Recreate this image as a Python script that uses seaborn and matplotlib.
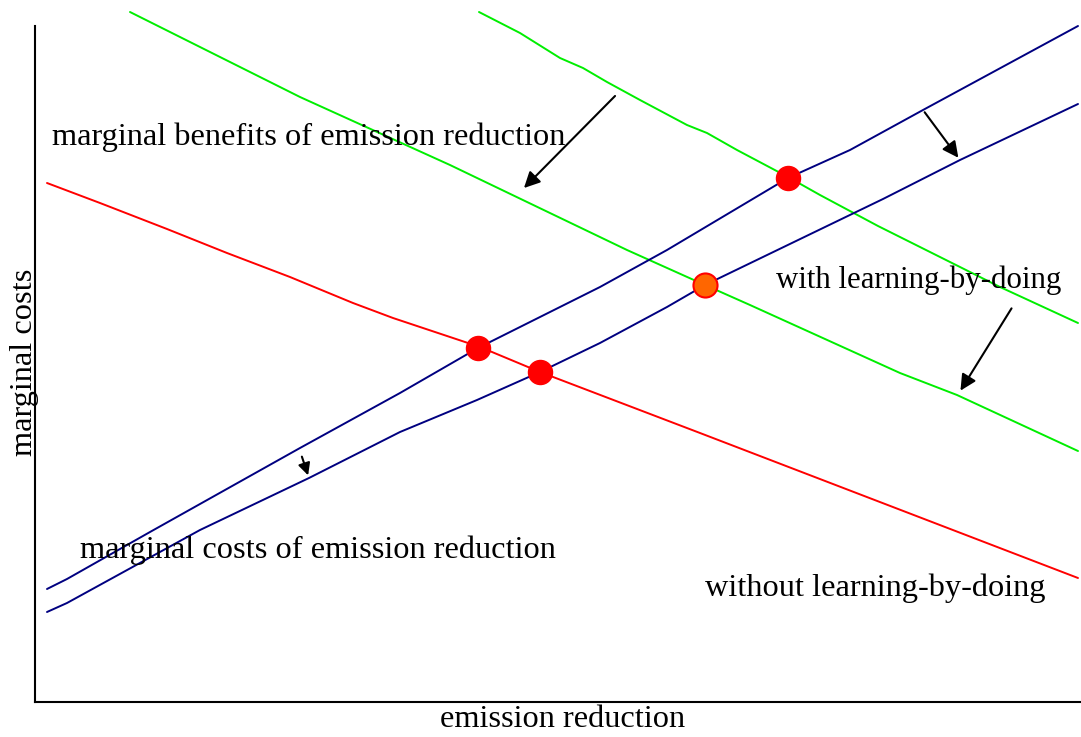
import numpy as np
import pandas as pd
import seaborn as sns
import matplotlib.pyplot as plt

# curves (x = emission reduction, y = marginal cost, arbitrary units)
mb_old_x = [12, 65, 132, 192, 255, 318, 358, 415, 445, 505, 665, 1043]
mb_old_y = [519, 499, 473, 449, 425, 399, 384, 365, 355, 330, 269, 124]

mb_new_x = [444, 485, 525, 548, 572, 605, 652, 672, 702, 753, 785, 843, 965, 1043]
mb_new_y = [690, 669, 644, 634, 620, 602, 577, 569, 552, 525, 507, 476, 415, 379]

mb_lbd_x = [95, 135, 265, 415, 592, 670, 715, 865, 922, 1043]
mb_lbd_y = [690, 670, 605, 537, 452, 417, 397, 329, 307, 251]

mc_old_x = [12, 32, 115, 265, 365, 443, 505, 565, 632, 753, 815, 888, 1043]
mc_old_y = [113, 123, 170, 254, 309, 354, 385, 415, 452, 524, 552, 592, 676]

mc_lbd_x = [12, 32, 165, 274, 365, 442, 505, 565, 632, 670, 848, 925, 1043]
mc_lbd_y = [90, 99, 172, 224, 270, 302, 330, 359, 395, 417, 503, 542, 598]

# equilibrium points
eq_x = [443, 505, 753]
eq_y = [354, 330, 524]
lbd_eq_x = [670]
lbd_eq_y = [417]

sns.set_style("white")
plt.rcParams['font.family'] = ['Liberation Serif', 'DejaVu Serif']

fig = plt.figure(figsize=(10.81, 7.37), dpi=100)
ax = fig.add_axes([35 / 1081, 35 / 737, 1046 / 1081, 702 / 737])

green = "#00ee00"
navy = "#000080"
red = "#ff0000"

sns.lineplot(x=mb_old_x, y=mb_old_y, ax=ax, color=red, lw=1.4, sort=False, estimator=None)
sns.lineplot(x=mb_new_x, y=mb_new_y, ax=ax, color=green, lw=1.4, sort=False, estimator=None)
sns.lineplot(x=mb_lbd_x, y=mb_lbd_y, ax=ax, color=green, lw=1.4, sort=False, estimator=None)
sns.lineplot(x=mc_old_x, y=mc_old_y, ax=ax, color=navy, lw=1.4, sort=False, estimator=None)
sns.lineplot(x=mc_lbd_x, y=mc_lbd_y, ax=ax, color=navy, lw=1.4, sort=False, estimator=None)

sns.scatterplot(x=eq_x, y=eq_y, ax=ax, color=red, s=300, edgecolor=red, linewidth=1, zorder=5)
sns.scatterplot(x=lbd_eq_x, y=lbd_eq_y, ax=ax, color="#ff6600", s=300, edgecolor=red, linewidth=1.5, zorder=5)

# shift arrows
arr = dict(arrowstyle="-|>", color="black", lw=1.5, mutation_scale=24)
ax.annotate("", xy=(487, 512), xytext=(582, 608), arrowprops=arr)
ax.annotate("", xy=(925, 542), xytext=(888, 592), arrowprops=arr)
ax.annotate("", xy=(924, 309), xytext=(978, 396), arrowprops=arr)
ax.annotate("", xy=(274, 224), xytext=(266, 248),
            arrowprops=dict(arrowstyle="-|>", color="black", lw=1.5, mutation_scale=18))

fs = 23.3
ax.text(17, 565, "marginal benefits of emission reduction", fontsize=fs, va="center", ha="left", color="black")
ax.text(741, 422, "with learning-by-doing", fontsize=22.2, va="center", ha="left", color="black")
ax.text(45, 152, "marginal costs of emission reduction", fontsize=fs, va="center", ha="left", color="black")
ax.text(670, 114, "without learning-by-doing", fontsize=fs, va="center", ha="left", color="black")

ax.set_xlim(0, 1046)
ax.set_ylim(0, 702)
ax.set_xticks([])
ax.set_yticks([])
ax.set_xlabel("emission reduction", fontsize=fs, color="black")
ax.set_ylabel("marginal costs", fontsize=fs, color="black")
ax.xaxis.set_label_coords(0.504, -0.004)
ax.yaxis.set_label_coords(0.004, 0.484)
sns.despine(ax=ax)
ax.spines['left'].set_bounds(0, 676)
ax.spines['left'].set_linewidth(1.5)
ax.spines['bottom'].set_linewidth(1.5)
ax.spines['left'].set_color("black")
ax.spines['bottom'].set_color("black")

fig.savefig("out.png", dpi=100)
